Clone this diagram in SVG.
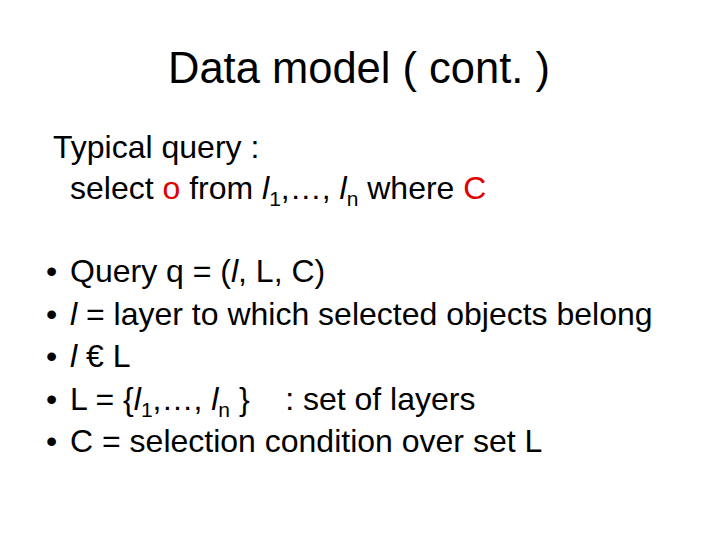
<svg xmlns="http://www.w3.org/2000/svg" width="720" height="540" viewBox="0 0 720 540">
<style>
text{font-family:"Liberation Sans",Arial,sans-serif;fill:#000}
.b{font-size:32px}
.r{fill:#e00000}
</style>
<rect width="720" height="540" fill="#fff"/>
<text x="359" y="83" font-size="43.5" text-anchor="middle">Data model ( cont. )</text>
<text class="b" x="53" y="158">Typical query :</text>
<text class="b" x="70" y="199">select <tspan class="r">o</tspan> from <tspan font-style="italic">l</tspan><tspan font-size="21" dy="7">1</tspan><tspan dy="-7">,…, </tspan><tspan font-style="italic">l</tspan><tspan font-size="21" dy="7">n</tspan><tspan dy="-7"> where </tspan><tspan class="r">C</tspan></text>
<text class="b" x="46" y="282">•</text>
<text class="b" x="46" y="325">•</text>
<text class="b" x="46" y="367">•</text>
<text class="b" x="46" y="410">•</text>
<text class="b" x="46" y="452">•</text>
<text class="b" x="70" y="282">Query q = (<tspan font-style="italic">l</tspan>, L, C)</text>
<text class="b" x="70" y="325"><tspan font-style="italic">l</tspan> = layer to which selected objects belong</text>
<text class="b" x="70" y="367"><tspan font-style="italic">l</tspan> € L</text>
<text class="b" x="70" y="410" xml:space="preserve">L = {<tspan font-style="italic">l</tspan><tspan font-size="21" dy="7">1</tspan><tspan dy="-7">,…, </tspan><tspan font-style="italic">l</tspan><tspan font-size="21" dy="7">n</tspan><tspan dy="-7"> }    : set of layers</tspan></text>
<text class="b" x="70" y="452">C = selection condition over set L</text>
</svg>
